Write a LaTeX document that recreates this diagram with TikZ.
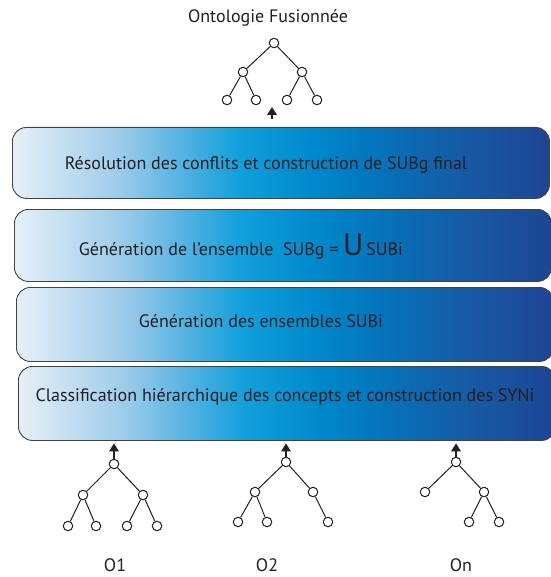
\documentclass[tikz,border=0pt]{standalone}
\usepackage{fontspec}
\setmainfont{PT Sans}
\usetikzlibrary{arrows.meta}

% blue ramp used to fill the four stage boxes (path box maps to 25bp..75bp)
\definecolor{rampA}{HTML}{E6F0F8}
\definecolor{rampB}{HTML}{9CCBEA}
\definecolor{rampC}{HTML}{45ADE0}
\definecolor{rampD}{HTML}{12A0DC}
\definecolor{rampE}{HTML}{0088CC}
\definecolor{rampF}{HTML}{0670B8}
\definecolor{rampG}{HTML}{175AA4}
\definecolor{rampH}{HTML}{1D4594}
\pgfdeclarehorizontalshading{stageramp}{100bp}{%
  color(0bp)=(rampA); color(25bp)=(rampA); color(35bp)=(rampB);
  color(42bp)=(rampC); color(46bp)=(rampD); color(53bp)=(rampE);
  color(60bp)=(rampF); color(67bp)=(rampG); color(75bp)=(rampH);
  color(100bp)=(rampH)}
\definecolor{ink}{HTML}{231F20}

\tikzset{
  stage/.style={draw=ink!85, line width=0.9pt, rounded corners=14pt,
    shading=stageramp, anchor=north west, minimum width=537pt, inner sep=0pt},
  stagetext/.style={text=ink, font=\fontsize{18}{21}\selectfont, inner sep=0pt},
  concept/.style={circle, draw=ink, fill=white, line width=1pt,
    minimum size=9.5pt, inner sep=0pt},
  link/.style={draw=ink, line width=1pt},
  lift/.style={draw=ink, line width=1.8pt,
    -{Triangle[length=8pt,width=9.5pt]}},
  caption/.style={text=ink, font=\fontsize{18}{21}\selectfont, inner sep=0pt}
}

\begin{document}
\begin{tikzpicture}[x=1pt,y=-1pt]
\useasboundingbox (0,0) rectangle (550,577);

% ---- merged ontology on top
\node[caption] (title) at (268,18) {Ontologie Fusionnée};
\node[concept] (fr)  at (274,43) {};
\node[concept] (fa)  at (243,72) {};
\node[concept] (fb)  at (302,72) {};
\node[concept] (fa1) at (227,100) {};
\node[concept] (fa2) at (256,100) {};
\node[concept] (fb1) at (287,100) {};
\node[concept] (fb2) at (317,100) {};
\draw[link] (fr) -- (fa) (fr) -- (fb) (fa) -- (fa1) (fa) -- (fa2)
            (fb) -- (fb1) (fb) -- (fb2);

% ---- processing stages
\node[stage, minimum height=71pt] (s1) at (12,127) {};
\node[stage, minimum height=72pt] (s2) at (14,209) {};
\node[stage, minimum height=74pt] (s3) at (16,287) {};
\node[stage, minimum height=74pt] (s4) at (18,366) {};

\node[stagetext] (t1) at (266,165)
  {Résolution des conflits et construction de SUBg final};
\node[stagetext] (t2) at (241,247)
  {Génération de l’ensemble\ \ SUBg = {\fontsize{31}{31}\selectfont U}\,SUBi};
\node[stagetext] (t3) at (261,321) {Génération des ensembles SUBi};
\node[stagetext] (t4) at (285,397)
  {Classification hiérarchique des concepts et construction des SYNi};

\coordinate (toptip) at (272,107);
\draw[lift, shorten <=8pt] (toptip |- s1.north) -- (toptip);

% ---- source ontology O1
\node[concept] (ar)  at (114,464) {};
\node[concept] (aa)  at (83,495) {};
\node[concept] (ab)  at (143,495) {};
\node[concept] (aa1) at (68,526) {};
\node[concept] (aa2) at (96,526) {};
\node[concept] (ab1) at (127,526) {};
\node[concept] (ab2) at (157,526) {};
\draw[link] (ar) -- (aa) (ar) -- (ab) (aa) -- (aa1) (aa) -- (aa2)
            (ab) -- (ab1) (ab) -- (ab2);
\draw[lift, shorten >=2.5pt] (ar.north) -- (ar.north |- s4.south);
\node[caption] (o1) at (115,565) {O1};

% ---- source ontology O2
\node[concept] (br)  at (286,462) {};
\node[concept] (ba)  at (255,492) {};
\node[concept] (bb)  at (313,492) {};
\node[concept] (ba1) at (238,522) {};
\node[concept] (ba2) at (267,522) {};
\node[concept] (bb1) at (328,522) {};
\draw[link] (br) -- (ba) (br) -- (bb) (ba) -- (ba1) (ba) -- (ba2)
            (bb) -- (bb1);
\draw[lift, shorten >=2.5pt] (br.north) -- (br.north |- s4.south);
\node[caption] (o2) at (267,565) {O2};

% ---- source ontology On
\node[concept] (cr)  at (456,462) {};
\node[concept] (ca)  at (425,492) {};
\node[concept] (cb)  at (484,492) {};
\node[concept] (cb1) at (469,522) {};
\node[concept] (cb2) at (499,522) {};
\draw[link] (cr) -- (ca) (cr) -- (cb) (cb) -- (cb1) (cb) -- (cb2);
\draw[lift, shorten >=2.5pt] (cr.north) -- (cr.north |- s4.south);
\node[caption] (on) at (461,565) {On};
\end{tikzpicture}
\end{document}
